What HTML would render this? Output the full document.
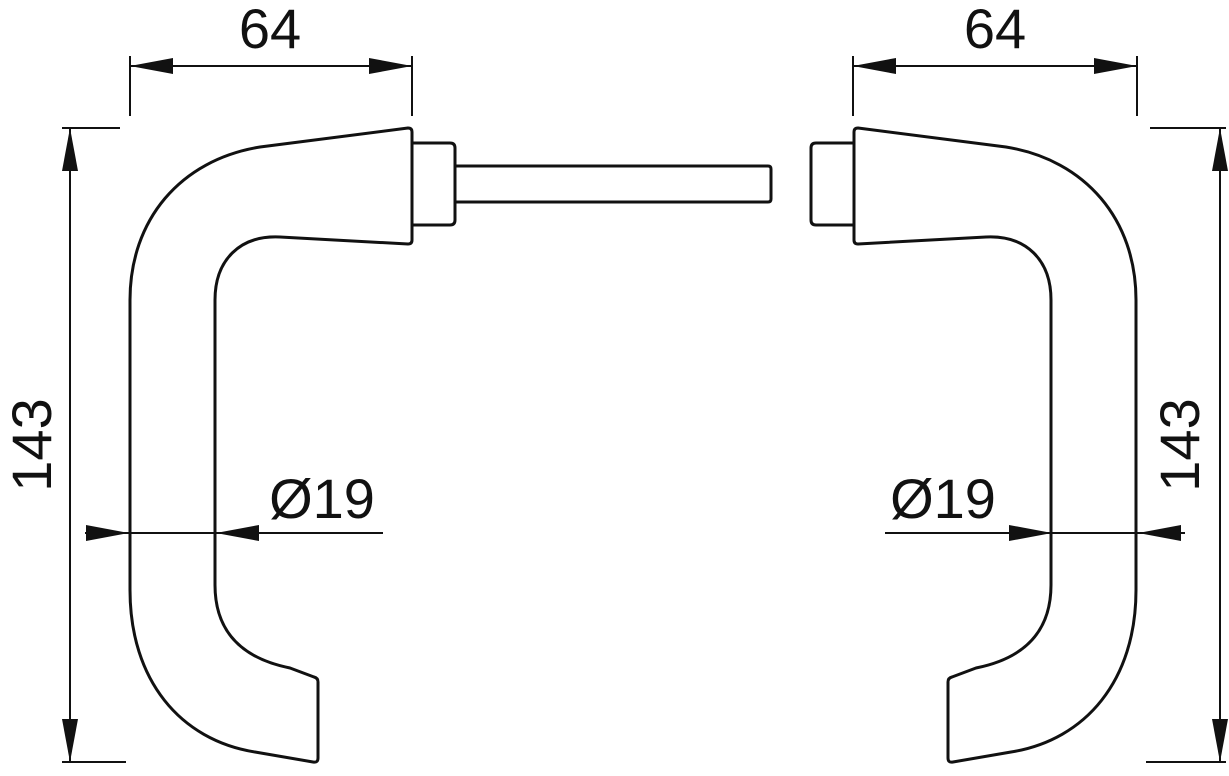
<!DOCTYPE html>
<html><head><style>html,body{margin:0;padding:0;background:#fff}</style></head><body>
<svg width="1229" height="771" viewBox="0 0 1229 771" xmlns="http://www.w3.org/2000/svg">
<defs>
<g id="handle" fill="none" stroke="#111" stroke-width="3" stroke-linejoin="round">
<path d="M408,128 Q412,128 412,132 L412,240 Q412,244 408,244 L280,237 C240,235 215,260 215,300 L215,585 C215,630 240,658 290,668 L314,677 Q318,678 318,682 L318,758 Q318,763 313,762 L255,752 C180,740 130,680 130,590 L130,300 C130,220 180,160 260,147 Z"/>
<path d="M412,143 L450,143 Q455,143 455,148 L455,220 Q455,225 450,225 L412,225"/>
</g>
<g id="arrowR"><polygon points="0,0 -43,-8 -43,8" fill="#111"/></g>
</defs>
<use href="#handle"/>
<use href="#handle" transform="translate(1266,0) scale(-1,1)"/>
<path d="M455,166 L768,166 Q771,166 771,169 L771,199 Q771,202 768,202 L455,202" fill="none" stroke="#111" stroke-width="3"/>
<g stroke="#111" stroke-width="2" fill="none">
<line x1="130" y1="56" x2="130" y2="116"/><line x1="412" y1="56" x2="412" y2="116"/>
<line x1="130" y1="66" x2="412" y2="66"/>
<line x1="853" y1="56" x2="853" y2="116"/><line x1="1137" y1="56" x2="1137" y2="116"/>
<line x1="853" y1="66" x2="1137" y2="66"/>
<line x1="62" y1="128" x2="120" y2="128"/><line x1="62" y1="762" x2="126" y2="762"/>
<line x1="70" y1="128" x2="70" y2="762"/>
<line x1="1150" y1="128" x2="1226" y2="128"/><line x1="1146" y1="762" x2="1226" y2="762"/>
<line x1="1220" y1="128" x2="1220" y2="762"/>
<line x1="85" y1="533" x2="383" y2="533"/>
<line x1="885" y1="533" x2="1185" y2="533"/>
</g>
<use href="#arrowR" transform="translate(130,66) rotate(180)"/>
<use href="#arrowR" transform="translate(412,66)"/>
<use href="#arrowR" transform="translate(853,66) rotate(180)"/>
<use href="#arrowR" transform="translate(1137,66)"/>
<use href="#arrowR" transform="translate(70,128) rotate(-90)"/>
<use href="#arrowR" transform="translate(70,762) rotate(90)"/>
<use href="#arrowR" transform="translate(1220,128) rotate(-90)"/>
<use href="#arrowR" transform="translate(1220,762) rotate(90)"/>
<use href="#arrowR" transform="translate(129,533)"/>
<use href="#arrowR" transform="translate(216,533) rotate(180)"/>
<use href="#arrowR" transform="translate(1052,533)"/>
<use href="#arrowR" transform="translate(1138,533) rotate(180)"/>
<g font-family="Liberation Sans, sans-serif" font-size="56" fill="#111">
<text x="270" y="48" text-anchor="middle">64</text>
<text x="995" y="48" text-anchor="middle">64</text>
<text x="322" y="518" text-anchor="middle">Ø19</text>
<text x="943" y="518" text-anchor="middle">Ø19</text>
<text transform="translate(51,445) rotate(-90)" text-anchor="middle">143</text>
<text transform="translate(1199,445) rotate(-90)" text-anchor="middle">143</text>
</g>
</svg>
</body></html>
